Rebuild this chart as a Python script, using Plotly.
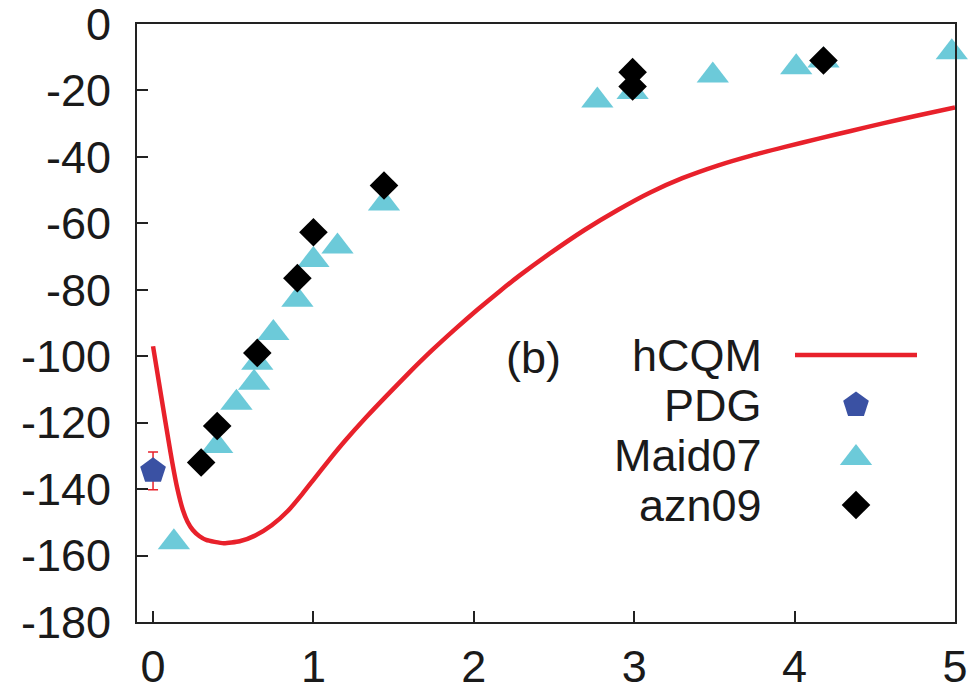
import plotly.graph_objects as go

# ---- data ----
hcqm_x = [0.0, 0.05, 0.10, 0.12, 0.15, 0.186, 0.215, 0.248, 0.29, 0.331, 0.44, 0.54, 0.64, 0.74,
          0.84, 0.93, 1.00, 1.10, 1.20, 1.33, 1.46, 1.60, 1.74, 1.88, 2.02, 2.16, 2.28, 2.47,
          2.69, 2.90, 3.10, 3.30, 3.52, 3.73, 3.94, 4.15, 4.35, 4.55, 4.76, 5.00]
hcqm_y = [-97, -111.8, -126.4, -132.0, -139.5, -146.3, -149.8, -152.3, -154.2, -155.3, -156.3, -155.7, -153.9, -150.9,
          -146.6, -141.5, -137.2, -131.1, -125.3, -118.3, -111.7, -104.8, -98.2, -92.0, -86.1, -80.5, -75.9, -69.2,
          -62.0, -55.9, -50.7, -46.4, -42.6, -39.6, -37.0, -34.5, -32.2, -29.9, -27.6, -25.1]

pdg_x = [0.0]
pdg_y = [-134.5]
pdg_err = [5.7]

maid_x = [0.13, 0.40, 0.52, 0.63, 0.65, 0.75, 0.90, 1.00, 1.15, 1.44, 2.77, 2.99, 3.49, 4.01, 4.18, 4.98]
maid_y = [-156, -127, -114, -108, -102, -93, -83, -71, -67, -54, -23, -20.5, -15.5, -13, -11, -8.5]

azn_x = [0.30, 0.40, 0.65, 0.90, 1.00, 1.44, 2.99, 2.99, 4.18]
azn_y = [-132, -121, -99, -76.5, -62.7, -48.6, -14.5, -18.8, -11]

x_ticks = [0, 1, 2, 3, 4, 5]
y_ticks = [0, -20, -40, -60, -80, -100, -120, -140, -160, -180]

legend_labels = ["hCQM", "PDG", "Maid07", "azn09"]
panel_label = "(b)"

RED = "#e8212b"
CYAN = "#6ccad9"
BLUE = "#3a51a3"
FONT = "Liberation Sans, Arial, Helvetica, sans-serif"
FS = 45

fig = go.Figure()

fig.add_trace(go.Scatter(x=hcqm_x, y=hcqm_y, mode="lines",
                         line=dict(color=RED, width=4.5, shape="spline", smoothing=0.5),
                         showlegend=False, hoverinfo="skip"))
fig.add_trace(go.Scatter(x=pdg_x, y=pdg_y, mode="markers",
                         marker=dict(symbol="pentagon", size=27, color=BLUE),
                         error_y=dict(type="data", array=pdg_err, color=RED, thickness=1.5, width=5),
                         showlegend=False, cliponaxis=False))
fig.add_trace(go.Scatter(x=maid_x, y=maid_y, mode="markers",
                         marker=dict(symbol="triangle-up", size=28, color=CYAN),
                         showlegend=False, cliponaxis=False))
fig.add_trace(go.Scatter(x=azn_x, y=azn_y, mode="markers",
                         marker=dict(symbol="diamond", size=22, color="black"),
                         showlegend=False, cliponaxis=False))

# ---- manual legend on an overlay pixel-like axis ----
L, R, T, B = 137, 955, 24, 622
key_x = 856
rows_y = [355, 405, 458, 505]
fig.add_trace(go.Scatter(x=[795, 917], y=[rows_y[0], rows_y[0]], xaxis="x2", yaxis="y2", mode="lines",
                         line=dict(color=RED, width=4.5), showlegend=False, hoverinfo="skip"))
fig.add_trace(go.Scatter(x=[key_x], y=[rows_y[1]], xaxis="x2", yaxis="y2", mode="markers",
                         marker=dict(symbol="pentagon", size=27, color=BLUE), showlegend=False, hoverinfo="skip"))
fig.add_trace(go.Scatter(x=[key_x], y=[rows_y[2]], xaxis="x2", yaxis="y2", mode="markers",
                         marker=dict(symbol="triangle-up", size=28, color=CYAN), showlegend=False, hoverinfo="skip"))
fig.add_trace(go.Scatter(x=[key_x], y=[rows_y[3]], xaxis="x2", yaxis="y2", mode="markers",
                         marker=dict(symbol="diamond", size=22, color="black"), showlegend=False, hoverinfo="skip"))

annotations = []
for lab, yy in zip(legend_labels, [355, 405, 455, 505]):
    annotations.append(dict(x=764, y=yy, xref="x2", yref="y2", text=lab, showarrow=False,
                            xanchor="right", yanchor="middle", font=dict(family=FONT, size=FS, color="#1a1a1a")))
annotations.append(dict(x=504, y=357, xref="x2", yref="y2", text=panel_label, showarrow=False,
                        xanchor="left", yanchor="middle", font=dict(family=FONT, size=FS, color="#1a1a1a")))

axis_common = dict(showgrid=False, zeroline=False, showline=True, linecolor="#222", linewidth=2,
                   mirror=True, ticks="inside", ticklen=11, tickwidth=2, tickcolor="#222",
                   automargin=False, ticklabeloverflow="allow",
                   tickfont=dict(family=FONT, size=FS, color="#1a1a1a"))

fig.update_layout(
    width=977, height=690,
    margin=dict(l=L, r=977 - R, t=T, b=690 - B, autoexpand=False),
    paper_bgcolor="white", plot_bgcolor="white",
    xaxis=dict(range=[-0.1, 5.0], tickvals=x_ticks, ticktext=[str(v) for v in x_ticks],
               ticklabelstandoff=4, **axis_common),
    yaxis=dict(range=[-180, 0], tickvals=y_ticks, ticktext=[str(v) for v in y_ticks],
               ticklabelstandoff=15, **axis_common),
    xaxis2=dict(overlaying="x", range=[L, R], visible=False, fixedrange=True),
    yaxis2=dict(overlaying="y", range=[B, T], visible=False, fixedrange=True),
    annotations=annotations,
)

fig.write_html("out.html")
